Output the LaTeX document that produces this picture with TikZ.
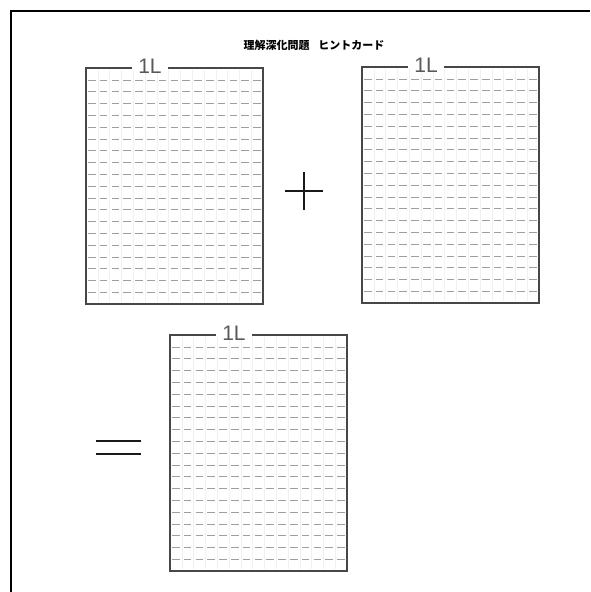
\documentclass[tikz,border=0pt]{standalone}
\usepackage{fontspec}
\setmainfont{Liberation Sans}
\newfontfamily\cjk{Noto Sans CJK JP}
\begin{document}
\begin{tikzpicture}[x=1pt,y=-1pt,
  boxline/.style={draw=black!72, line width=1.1pt},
  rowline/.style={draw=black!38, line width=0.8pt, dash pattern=on 7.5pt off 4.3pt},
  colline/.style={draw=black!6, line width=0.4pt},
  litre/.style={text=black!65, font=\fontsize{21}{21}\selectfont, inner sep=0pt},
  bigsign/.style={draw=black!90, line width=2.6pt},
  frameline/.style={draw=black, line width=2.8pt}]
\useasboundingbox (0,0) rectangle (590,592);
\fill[white] (0,0) rectangle (590,592);
\draw[frameline] (11,592) -- (11,11) -- (590,11);
\node[font=\cjk\bfseries\fontsize{11}{11}\selectfont, inner sep=0pt] (title) at (314,45) {理解深化問題\hspace{0.8em}ヒントカード};
\foreach \n/\xo/\yo in {1/86/68, 2/362/67, 3/170/335} {
  \foreach \k in {1,...,14} \draw[colline] (\xo+\k*11.8, \yo+2) -- (\xo+\k*11.8, \yo+234);
  \foreach \j in {0,...,18} \draw[rowline] (\xo+2, \yo+12+\j*11.8) -- (\xo+176, \yo+12+\j*11.8);
  \node[litre] (L\n) at (\xo+64, \yo-2) {1L};
  \draw[boxline] (\xo+46,\yo) -- (\xo,\yo) -- (\xo,\yo+236) -- (\xo+177,\yo+236) -- (\xo+177,\yo) -- (\xo+82,\yo);
}
\draw[bigsign] (285,191) -- (323,191);
\draw[bigsign] (304,172) -- (304,210);
\draw[bigsign] (96,441) -- (141,441);
\draw[bigsign] (96,454) -- (141,454);
\end{tikzpicture}
\end{document}
